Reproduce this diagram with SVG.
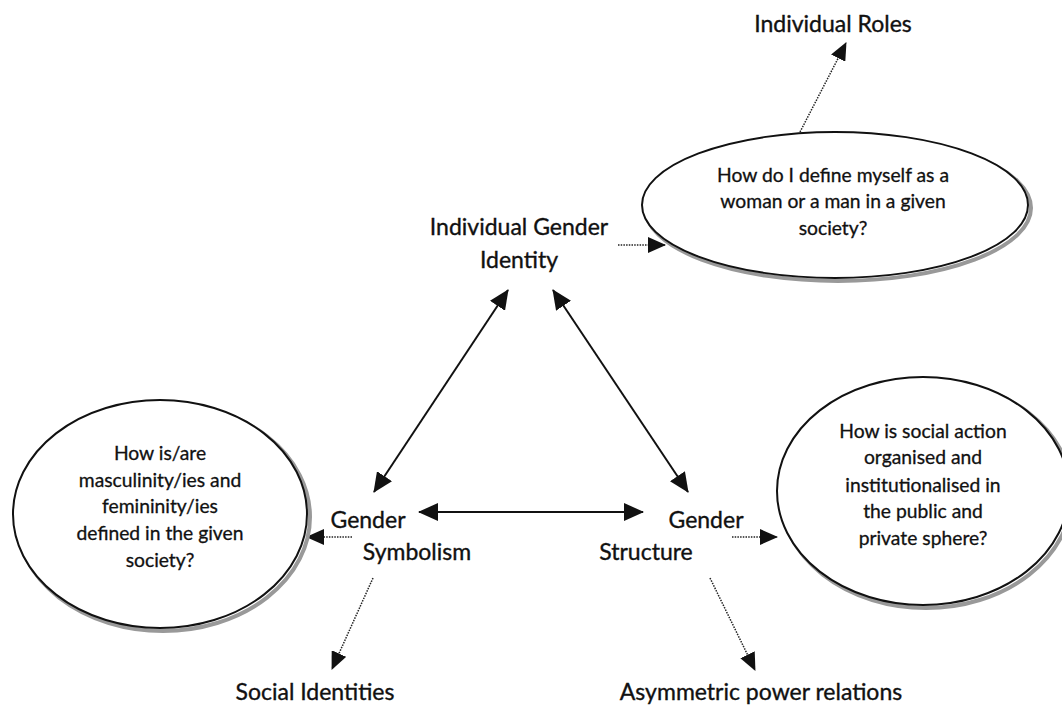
<svg xmlns="http://www.w3.org/2000/svg" width="1062" height="706" viewBox="0 0 1062 706">
<style>
text{font-family:Lato,"Open Sans","Liberation Sans",sans-serif;fill:#111;stroke:#111;stroke-width:0.35;text-anchor:middle}
.lbl{font-size:23px}
.q{font-size:19.3px;stroke-width:0.3}
.ell{fill:#fff;stroke:#111;stroke-width:2}
.sh{fill:none;stroke:#999;stroke-width:4}
.solid{stroke:#111;stroke-width:2;fill:none}
.dot{stroke:#222;stroke-width:1.5;stroke-dasharray:1.5 1.2;fill:none}
</style>
<defs>
<marker id="ah" viewBox="0 0 20 18" refX="19" refY="9" markerWidth="20" markerHeight="18" markerUnits="userSpaceOnUse" orient="auto-start-reverse"><path d="M0,0 L20,9 L0,18 z" fill="#111"/></marker>
<marker id="ahs" viewBox="0 0 18 16" refX="17" refY="8" markerWidth="18" markerHeight="16" markerUnits="userSpaceOnUse" orient="auto"><path d="M0,0 L18,8 L0,16 z" fill="#111"/></marker>
</defs>
<rect width="1062" height="706" fill="#fff"/>
<g id="connectors">
<line class="solid" x1="508" y1="290" x2="374" y2="492" marker-start="url(#ah)" marker-end="url(#ah)"/>
<line class="solid" x1="553" y1="290" x2="688" y2="492" marker-start="url(#ah)" marker-end="url(#ah)"/>
<line class="solid" x1="419" y1="512" x2="643" y2="512" marker-start="url(#ah)" marker-end="url(#ah)"/>
<line class="dot" x1="618" y1="245" x2="665" y2="245" marker-end="url(#ahs)"/>
<line class="dot" x1="800" y1="132" x2="846" y2="43" marker-end="url(#ahs)"/>
<line class="dot" x1="352" y1="537" x2="307" y2="537" marker-end="url(#ahs)"/>
<line class="dot" x1="373" y1="578" x2="332" y2="669" marker-end="url(#ahs)"/>
<line class="dot" x1="732" y1="537" x2="777" y2="537" marker-end="url(#ahs)"/>
<line class="dot" x1="710" y1="578" x2="755" y2="670" marker-end="url(#ahs)"/>
</g>
<g id="node-identity">
<text class="lbl" x="519" y="235">Individual Gender</text>
<text class="lbl" x="519" y="268">Identity</text>
</g>
<g id="node-symbolism">
<text class="lbl" x="368" y="528">Gender</text>
<text class="lbl" x="417" y="560">Symbolism</text>
</g>
<g id="node-structure">
<text class="lbl" x="706" y="528">Gender</text>
<text class="lbl" x="646" y="560">Structure</text>
</g>
<g id="node-q-identity">
<ellipse class="sh" cx="838" cy="208" rx="193" ry="73"/>
<ellipse class="ell" cx="835" cy="205" rx="193" ry="73"/>
<text class="q" x="833" y="182">How do I define myself as a</text>
<text class="q" x="833" y="208">woman or a man in a given</text>
<text class="q" x="833" y="235">society?</text>
</g>
<g id="node-q-symbolism">
<ellipse class="sh" cx="163" cy="517" rx="147" ry="114"/>
<ellipse class="ell" cx="160" cy="514" rx="147" ry="114"/>
<text class="q" x="160" y="460">How is/are</text>
<text class="q" x="160" y="487">masculinity/ies and</text>
<text class="q" x="160" y="513">femininity/ies</text>
<text class="q" x="160" y="540">defined in the given</text>
<text class="q" x="160" y="567">society?</text>
</g>
<g id="node-q-structure">
<ellipse class="sh" cx="926" cy="494" rx="146" ry="114"/>
<ellipse class="ell" cx="923" cy="491" rx="146" ry="114"/>
<text class="q" x="923" y="438">How is social action</text>
<text class="q" x="923" y="464">organised and</text>
<text class="q" x="923" y="492">institutionalised in</text>
<text class="q" x="923" y="518">the public and</text>
<text class="q" x="923" y="545">private sphere?</text>
</g>
<g id="node-roles"><text class="lbl" x="833" y="32">Individual Roles</text></g>
<g id="node-social"><text class="lbl" x="315" y="700">Social Identities</text></g>
<g id="node-power"><text class="lbl" x="761" y="700">Asymmetric power relations</text></g>
</svg>
